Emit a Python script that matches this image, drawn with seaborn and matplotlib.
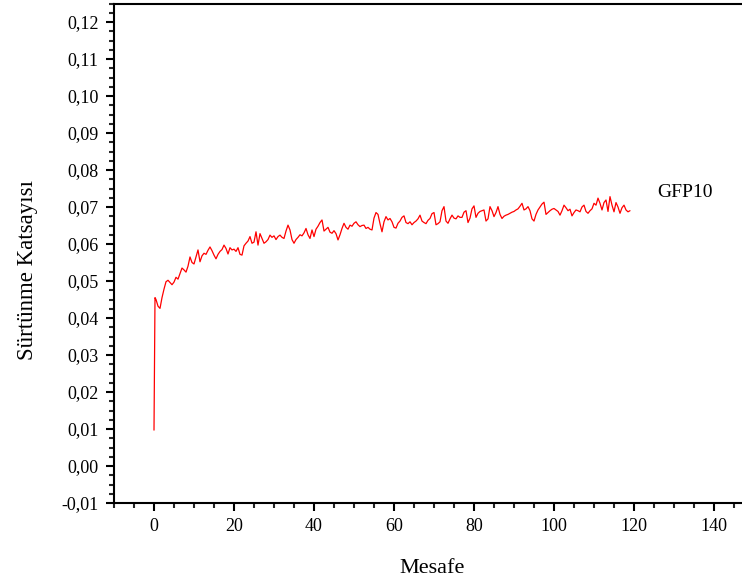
import matplotlib
matplotlib.use("Agg")
import matplotlib.pyplot as plt
import seaborn as sns
import pandas as pd
from matplotlib.ticker import MultipleLocator, FuncFormatter

# ---- data ----
distance = [
    0.0, 0.25, 0.5, 1.0, 1.5, 2.0, 2.5, 3.0, 3.5, 4.0, 4.5, 5.0, 5.5, 6.0, 6.5, 7.0, 7.5, 8.0, 8.5, 9.0, 9.5, 10.0,
    10.5, 11.0, 11.5, 12.0, 12.5, 13.0, 13.5, 14.0, 14.5, 15.0, 15.5, 16.0, 16.5, 17.0, 17.5, 18.0, 18.5, 19.0, 19.5, 20.0,
    20.5, 21.0, 21.5, 22.0, 22.5, 23.0, 23.5, 24.0, 24.5, 25.0, 25.5, 26.0, 26.5, 27.0, 27.5, 28.0, 28.5, 29.0, 29.5, 30.0,
    30.5, 31.0, 31.5, 32.0, 32.5, 33.0, 33.5, 34.0, 34.5, 35.0, 35.5, 36.0, 36.5, 37.0, 37.5, 38.0, 38.5, 39.0, 39.5, 40.0,
    40.5, 41.0, 41.5, 42.0, 42.5, 43.0, 43.5, 44.0, 44.5, 45.0, 45.5, 46.0, 46.5, 47.0, 47.5, 48.0, 48.5, 49.0, 49.5, 50.0,
    50.5, 51.0, 51.5, 52.0, 52.5, 53.0, 53.5, 54.0, 54.5, 55.0, 55.5, 56.0, 56.5, 57.0, 57.5, 58.0, 58.5, 59.0, 59.5, 60.0,
    60.5, 61.0, 61.5, 62.0, 62.5, 63.0, 63.5, 64.0, 64.5, 65.0, 65.5, 66.0, 66.5, 67.0, 67.5, 68.0, 68.5, 69.0, 69.5, 70.0,
    70.5, 71.0, 71.5, 72.0, 72.5, 73.0, 73.5, 74.0, 74.5, 75.0, 75.5, 76.0, 76.5, 77.0, 77.5, 78.0, 78.5, 79.0, 79.5, 80.0,
    80.5, 81.0, 81.5, 82.0, 82.5, 83.0, 83.5, 84.0, 84.5, 85.0, 85.5, 86.0, 86.5, 87.0, 87.5, 88.0, 88.5, 89.0, 89.5, 90.0,
    90.5, 91.0, 91.5, 92.0, 92.5, 93.0, 93.5, 94.0, 94.5, 95.0, 95.5, 96.0, 96.5, 97.0, 97.5, 98.0, 98.5, 99.0, 99.5, 100.0,
    100.5, 101.0, 101.5, 102.0, 102.5, 103.0, 103.5, 104.0, 104.5, 105.0, 105.5, 106.0, 106.5, 107.0, 107.5, 108.0, 108.5, 109.0, 109.5, 110.0,
    110.5, 111.0, 111.5, 112.0, 112.5, 113.0, 113.5, 114.0, 114.5, 115.0, 115.5, 116.0, 116.5, 117.0, 117.5, 118.0, 118.5, 119.0,
]

friction = [
    0.0097, 0.0455, 0.0450, 0.0432, 0.0426, 0.0455, 0.0478, 0.0498, 0.0502, 0.0496, 0.0490, 0.0497, 0.0510, 0.0505, 0.0520, 0.0535, 0.0530, 0.0524, 0.0540, 0.0565, 0.0550, 0.0546,
    0.0565, 0.0584, 0.0552, 0.0568, 0.0575, 0.0572, 0.0583, 0.0592, 0.0582, 0.0570, 0.0560, 0.0572, 0.0580, 0.0585, 0.0597, 0.0588, 0.0573, 0.0590, 0.0584, 0.0586,
    0.0580, 0.0590, 0.0572, 0.0570, 0.0595, 0.0602, 0.0608, 0.0620, 0.0602, 0.0605, 0.0633, 0.0597, 0.0628, 0.0615, 0.0602, 0.0606, 0.0612, 0.0624, 0.0618, 0.0622,
    0.0612, 0.0620, 0.0624, 0.0618, 0.0615, 0.0635, 0.0651, 0.0638, 0.0612, 0.0602, 0.0612, 0.0618, 0.0625, 0.0622, 0.0630, 0.0642, 0.0625, 0.0615, 0.0638, 0.0620,
    0.0640, 0.0648, 0.0658, 0.0665, 0.0635, 0.0640, 0.0645, 0.0632, 0.0629, 0.0636, 0.0628, 0.0611, 0.0625, 0.0642, 0.0656, 0.0645, 0.0640, 0.0651, 0.0648, 0.0656,
    0.0660, 0.0652, 0.0647, 0.0650, 0.0651, 0.0642, 0.0645, 0.0640, 0.0638, 0.0670, 0.0685, 0.0680, 0.0655, 0.0633, 0.0660, 0.0674, 0.0665, 0.0669, 0.0660, 0.0645,
    0.0643, 0.0656, 0.0662, 0.0672, 0.0676, 0.0658, 0.0655, 0.0660, 0.0652, 0.0658, 0.0662, 0.0668, 0.0678, 0.0662, 0.0658, 0.0655, 0.0664, 0.0669, 0.0682, 0.0685,
    0.0652, 0.0655, 0.0660, 0.0690, 0.0701, 0.0662, 0.0656, 0.0668, 0.0678, 0.0670, 0.0668, 0.0676, 0.0672, 0.0672, 0.0686, 0.0690, 0.0658, 0.0670, 0.0695, 0.0703,
    0.0672, 0.0683, 0.0688, 0.0690, 0.0692, 0.0662, 0.0668, 0.0701, 0.0690, 0.0674, 0.0685, 0.0701, 0.0680, 0.0669, 0.0675, 0.0678, 0.0680, 0.0683, 0.0686, 0.0688,
    0.0692, 0.0695, 0.0702, 0.0710, 0.0692, 0.0695, 0.0701, 0.0690, 0.0668, 0.0662, 0.0680, 0.0692, 0.0700, 0.0708, 0.0713, 0.0680, 0.0685, 0.0690, 0.0694, 0.0696,
    0.0692, 0.0688, 0.0678, 0.0690, 0.0705, 0.0698, 0.0690, 0.0694, 0.0676, 0.0685, 0.0692, 0.0690, 0.0687, 0.0700, 0.0705, 0.0688, 0.0683, 0.0690, 0.0695, 0.0710,
    0.0705, 0.0724, 0.0710, 0.0692, 0.0712, 0.0719, 0.0688, 0.0728, 0.0705, 0.0687, 0.0712, 0.0700, 0.0683, 0.0698, 0.0705, 0.0692, 0.0687, 0.0690,
]

series_label = "GFP10"
x_label = "Mesafe"
y_label = "Sürtünme Katsayısı"

df = pd.DataFrame({"Mesafe": distance, "Sürtünme": friction})

# ---- style ----
sns.set_theme(style="ticks")
plt.rcParams["font.family"] = ["Liberation Serif", "DejaVu Serif"]
plt.rcParams["axes.linewidth"] = 1.5

fig = plt.figure(figsize=(7.42, 5.85), dpi=100)
# axes runs from x=-10 (left spine) to x=150, which lies just past the right image edge
ax = fig.add_axes([114 / 742, 82 / 585, 640 / 742, 499.5 / 585])

sns.lineplot(data=df, x="Mesafe", y="Sürtünme", color="#ff0000",
             linewidth=0.9, estimator=None, sort=False, ax=ax)

ax.set_xlim(-10, 150)
ax.set_ylim(-0.01, 0.125)

ax.xaxis.set_major_locator(MultipleLocator(20))
ax.xaxis.set_minor_locator(MultipleLocator(5))
ax.yaxis.set_major_locator(MultipleLocator(0.01))
ax.yaxis.set_minor_locator(MultipleLocator(0.0025))


def yfmt(v, pos):
    if abs(v) < 1e-9:
        v = 0.0
    return f"{v:.2f}".replace(".", ",")


ax.yaxis.set_major_formatter(FuncFormatter(yfmt))
ax.xaxis.set_major_formatter(FuncFormatter(lambda v, p: f"{v:.0f}" if v >= 0 else ""))

ax.tick_params(axis="both", which="major", direction="out", length=6, width=1.5,
               labelsize=13, colors="black", pad=5)
ax.tick_params(axis="both", which="minor", direction="out", length=3.5, width=1.5)
ax.tick_params(axis="both", top=False, right=False)

for s in ax.spines.values():
    s.set_linewidth(1.5)
    s.set_color("black")

ax.set_xlabel(x_label, fontsize=16, color="black")
ax.set_ylabel(y_label, fontsize=16.5, color="black")
ax.xaxis.set_label_coords((432.5 - 114) / 640, -0.113)
ax.yaxis.set_label_coords((38 - 114) / 640, 0.466)

ax.text(125.7, 0.0738, series_label, fontsize=14, ha="left", va="center", color="black")

ax.grid(False)
fig.savefig("out.png", dpi=100)
